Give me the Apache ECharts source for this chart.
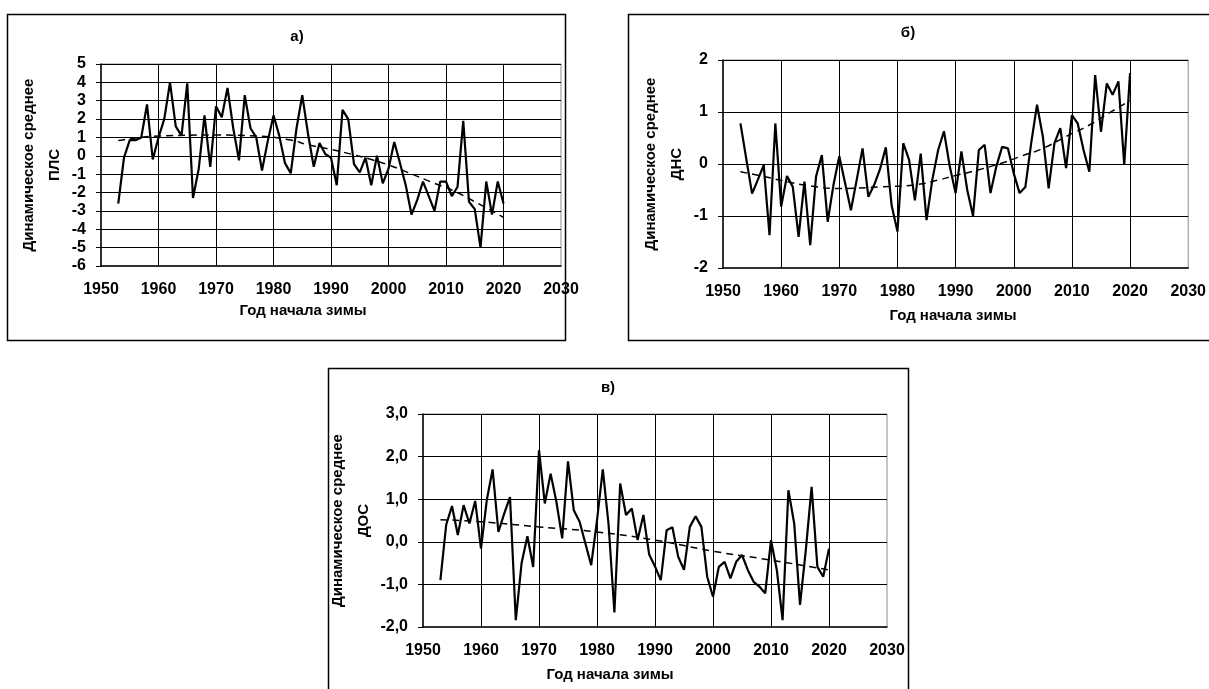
<!DOCTYPE html>
<html><head><meta charset="utf-8">
<script src="https://cdn.jsdelivr.net/npm/echarts@6/dist/echarts.min.js"></script>
<style>html,body{margin:0;padding:0;background:#fff}#c{width:1209px;height:689px}</style>
</head><body><div id="c"></div>
<script>
const years = [1953,1954,1955,1956,1957,1958,1959,1960,1961,1962,1963,1964,1965,1966,1967,1968,1969,1970,1971,1972,1973,1974,1975,1976,1977,1978,1979,1980,1981,1982,1983,1984,1985,1986,1987,1988,1989,1990,1991,1992,1993,1994,1995,1996,1997,1998,1999,2000,2001,2002,2003,2004,2005,2006,2007,2008,2009,2010,2011,2012,2013,2014,2015,2016,2017,2018,2019,2020];

// а) ПЛС
const plsValues = [-2.6,-0.1,0.85,0.85,1.0,2.8,-0.2,1.0,2.0,4.0,1.6,1.1,3.95,-2.3,-0.7,2.2,-0.6,2.7,2.1,3.7,1.5,-0.25,3.3,1.5,1.0,-0.8,0.8,2.2,1.1,-0.4,-0.95,1.5,3.3,1.2,-0.6,0.7,0.1,-0.1,-1.6,2.5,2.0,-0.45,-0.9,-0.1,-1.6,0.0,-1.5,-0.7,0.75,-0.4,-1.6,-3.2,-2.4,-1.4,-2.2,-3.0,-1.4,-1.4,-2.2,-1.7,1.9,-2.5,-2.9,-5.0,-1.4,-3.2,-1.4,-2.6];
const plsTrendYears = [1953,1960,1970,1977,1983,1986,1990,1994,1997,2000,2003,2008,2011,2015,2020];
const plsTrendValues = [0.83,1.08,1.13,1.08,0.86,0.6,0.35,0.05,-0.2,-0.5,-0.86,-1.5,-1.86,-2.5,-3.35];

// б) ДНС
const dnsValues = [0.78,0.1,-0.57,-0.3,-0.02,-1.37,0.78,-0.82,-0.23,-0.44,-1.4,-0.34,-1.56,-0.24,0.17,-1.11,-0.4,0.15,-0.37,-0.89,-0.3,0.3,-0.63,-0.4,-0.1,0.32,-0.8,-1.3,0.4,0.08,-0.7,0.2,-1.08,-0.3,0.27,0.63,-0.05,-0.56,0.24,-0.5,-1.0,0.27,0.37,-0.56,-0.05,0.33,0.3,-0.18,-0.56,-0.44,0.4,1.14,0.53,-0.47,0.4,0.69,-0.08,0.94,0.78,0.27,-0.15,1.71,0.62,1.55,1.33,1.59,-0.02,1.75];
const dnsTrendYears = [1953,1957,1961,1965,1970,1977,1983,1987,1990,1993,1998,2001,2005,2009,2013,2017,2020];
const dnsTrendValues = [-0.15,-0.24,-0.34,-0.42,-0.47,-0.44,-0.4,-0.31,-0.22,-0.14,0.02,0.14,0.3,0.53,0.75,1.02,1.22];

// в) ДОС
const dosValues = [-0.9,0.4,0.84,0.16,0.86,0.43,0.96,-0.16,0.98,1.7,0.23,0.66,1.05,-1.84,-0.5,0.13,-0.59,2.15,0.9,1.6,0.94,0.08,1.89,0.74,0.47,-0.04,-0.55,0.5,1.7,0.4,-1.66,1.37,0.63,0.78,0.04,0.63,-0.3,-0.58,-0.9,0.27,0.34,-0.35,-0.66,0.35,0.6,0.35,-0.82,-1.29,-0.59,-0.47,-0.86,-0.47,-0.31,-0.66,-0.94,-1.05,-1.21,0.04,-0.66,-1.84,1.21,0.43,-1.48,-0.2,1.29,-0.59,-0.82,-0.16];
const dosTrendYears = [1953,1960,1970,1980,1990,2000,2010,2020];
const dosTrendValues = [0.52,0.47,0.35,0.23,0.04,-0.22,-0.43,-0.66];

const panelTitles = ['а)', 'б)', 'в)'];
const yNames = ['Динамическое среднее\nПЛС', 'Динамическое среднее\nДНС', 'Динамическое среднее\nДОС'];
const xName = 'Год начала зимы';
const yRanges = [[-6, 5], [-2, 2], [-2, 3]];

const FONT = '"Liberation Sans", Arial, sans-serif';
const pair = (xs, vs) => xs.map((x, i) => [x, vs[i]]);

const grids = [
  {left: 101, top: 64, width: 460, height: 202},
  {left: 723, top: 60, width: 466, height: 208},
  {left: 423, top: 414, width: 464, height: 213}
];
const xNamePos = [[303, 311], [953, 316], [610, 675]];
const titlePos = [[297, 37], [908, 33], [608, 388]];
const boxes = [[7.5, 14.5, 558, 326], [628.5, 14.5, 600, 326], [328.5, 368.5, 580, 340]];

const chart = echarts.init(document.getElementById('c'));
const option = {
  animation: false,
  backgroundColor: '#fff',
  grid: grids.map(g => Object.assign({show: true, borderColor: '#8c8c8c', borderWidth: 1, backgroundColor: 'transparent', containLabel: false}, g)),
  xAxis: grids.map((g, i) => ({
    type: 'value', gridIndex: i, min: 1950, max: 2030, interval: 10,
    axisLine: {show: true, onZero: false, lineStyle: {color: '#000', width: 1.5}},
    axisTick: {show: false},
    axisLabel: {color: '#000', fontFamily: FONT, fontWeight: 'bold', fontSize: 16, margin: 16, formatter: v => String(v)},
    splitLine: {show: true, showMinLine: false, showMaxLine: false, lineStyle: {color: '#000', width: 1}}
  })),
  yAxis: grids.map((g, i) => ({
    type: 'value', gridIndex: i, min: yRanges[i][0], max: yRanges[i][1], interval: 1,
    name: yNames[i], nameLocation: 'middle', nameRotate: 90, nameGap: 32,
    nameTextStyle: {color: '#000', fontFamily: FONT, fontWeight: 'bold', fontSize: 15, lineHeight: 26},
    axisLine: {show: true, onZero: false, lineStyle: {color: '#000', width: 1.5}},
    axisTick: {show: true, length: 5, lineStyle: {color: '#000'}},
    axisLabel: {color: '#000', fontFamily: FONT, fontWeight: 'bold', fontSize: 16, margin: 15,
      formatter: i === 2 ? (v => v.toFixed(1).replace('.', ',')) : (v => String(v))},
    splitLine: {show: true, showMinLine: false, lineStyle: {color: '#000', width: 1}}
  })),
  series: [
    {type: 'line', xAxisIndex: 0, yAxisIndex: 0, data: pair(years, plsValues), showSymbol: false, lineStyle: {color: '#000', width: 2.2}, z: 3},
    {type: 'line', xAxisIndex: 0, yAxisIndex: 0, data: pair(plsTrendYears, plsTrendValues), smooth: true, showSymbol: false, lineStyle: {color: '#000', width: 1.5, type: [7, 5]}, z: 2},
    {type: 'line', xAxisIndex: 1, yAxisIndex: 1, data: pair(years, dnsValues), showSymbol: false, lineStyle: {color: '#000', width: 2.2}, z: 3},
    {type: 'line', xAxisIndex: 1, yAxisIndex: 1, data: pair(dnsTrendYears, dnsTrendValues), smooth: true, showSymbol: false, lineStyle: {color: '#000', width: 1.5, type: [7, 5]}, z: 2},
    {type: 'line', xAxisIndex: 2, yAxisIndex: 2, data: pair(years, dosValues), showSymbol: false, lineStyle: {color: '#000', width: 2.2}, z: 3},
    {type: 'line', xAxisIndex: 2, yAxisIndex: 2, data: pair(dosTrendYears, dosTrendValues), smooth: true, showSymbol: false, lineStyle: {color: '#000', width: 1.5, type: [7, 5]}, z: 2}
  ],
  graphic: [
    ...boxes.map(b => ({type: 'rect', shape: {x: b[0], y: b[1], width: b[2], height: b[3]}, style: {fill: 'none', stroke: '#000', lineWidth: 1.5}, silent: true, z: 0})),
    ...panelTitles.map((t, i) => ({type: 'text', x: titlePos[i][0], y: titlePos[i][1], style: {text: t, fill: '#000', font: 'bold 15px ' + FONT, align: 'center', verticalAlign: 'middle'}})),
    ...xNamePos.map(p => ({type: 'text', x: p[0], y: p[1], style: {text: xName, fill: '#000', font: 'bold 15px ' + FONT, align: 'center', verticalAlign: 'middle'}}))
  ]
};
chart.setOption(option);
</script></body></html>
